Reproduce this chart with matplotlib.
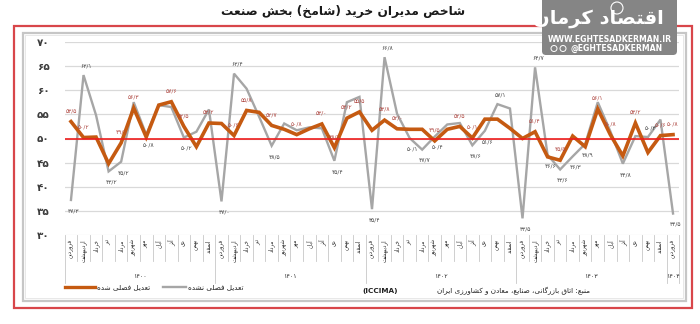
import numpy as np
import matplotlib
matplotlib.use("Agg")
import matplotlib.pyplot as plt
from matplotlib.patches import Rectangle, FancyBboxPatch, Circle

plt.rcParams['font.family'] = ['DejaVu Sans']

# --- data -------------------------------------------------------------
months = ['فروردین', 'اردیبهشت', 'خرداد', 'تیر', 'مرداد', 'شهریور',
          'مهر', 'آبان', 'آذر', 'دی', 'بهمن', 'اسفند']
years = ['۱۴۰۰', '۱۴۰۱', '۱۴۰۲', '۱۴۰۳', '۱۴۰۴']
year_lengths = [12, 12, 12, 12, 1]

# seasonally adjusted PMI (orange)
adjusted = [53.5, 50.2, 50.3, 44.8, 49.1, 56.3, 50.3, 56.9, 57.6, 52.5,
            48.3, 53.2, 53.1, 50.6, 55.8, 55.4, 52.7, 51.9, 50.8, 52.0,
            53.0, 48.1, 54.2, 55.5, 51.7, 53.8, 52.0, 51.9, 51.9, 49.5,
            51.9, 52.5, 50.1, 54.0, 54.0, 52.1, 50.0, 51.4, 46.2, 45.5,
            50.5, 48.3, 56.1, 50.8, 46.4, 53.2, 47.1, 50.6, 50.8]
# not seasonally adjusted PMI (gray)
unadjusted = [37.3, 63.1, 54.8, 43.2, 45.2, 57.5, 50.8, 56.9, 56.5, 50.2,
              51.4, 56.0, 37.0, 63.4, 60.3, 54.5, 48.5, 53.1, 51.7, 52.3,
              52.1, 45.4, 57.5, 58.6, 35.4, 66.8, 55.1, 50.1, 47.7, 50.4,
              52.9, 53.2, 48.6, 51.6, 57.1, 56.2, 33.5, 64.7, 46.6, 43.6,
              46.3, 48.9, 57.5, 51.5, 44.8, 50.5, 50.3, 53.9, 34.5]

adjusted_labeled = [0, 1, 4, 5, 8, 9, 11, 13, 14, 16, 18, 20, 21, 22, 23,
                    25, 26, 29, 31, 32, 37, 39, 42, 43, 45, 47, 48]
unadjusted_labeled = [0, 1, 3, 4, 6, 9, 12, 13, 16, 21, 24, 25, 27, 28, 29,
                      32, 33, 34, 36, 37, 38, 39, 40, 41, 44, 46, 48]

title = 'شاخص مدیران خرید (شامخ) بخش صنعت'
legend_adj = 'تعدیل فصلی شده'
legend_unadj = 'تعدیل فصلی نشده'
source = 'منبع: اتاق بازرگانی، صنایع، معادن و کشاورزی ایران'
brand = 'اقتصاد کرمان'

ORANGE = '#c55a11'
GRAY = '#a6a6a6'

# --- minimal Persian shaping (presentation forms + visual order) ------
FORMS = {
    'ا': (0xFE8D, 0xFE8E), 'آ': (0xFE81, 0xFE82), 'د': (0xFEA9, 0xFEAA),
    'ذ': (0xFEAB, 0xFEAC), 'ر': (0xFEAD, 0xFEAE), 'ز': (0xFEAF, 0xFEB0),
    'ژ': (0xFB8A, 0xFB8B), 'و': (0xFEED, 0xFEEE),
    'ب': (0xFE8F, 0xFE90, 0xFE91, 0xFE92), 'ت': (0xFE95, 0xFE96, 0xFE97, 0xFE98),
    'ج': (0xFE9D, 0xFE9E, 0xFE9F, 0xFEA0), 'ح': (0xFEA1, 0xFEA2, 0xFEA3, 0xFEA4),
    'خ': (0xFEA5, 0xFEA6, 0xFEA7, 0xFEA8), 'س': (0xFEB1, 0xFEB2, 0xFEB3, 0xFEB4),
    'ش': (0xFEB5, 0xFEB6, 0xFEB7, 0xFEB8), 'ص': (0xFEB9, 0xFEBA, 0xFEBB, 0xFEBC),
    'ع': (0xFEC9, 0xFECA, 0xFECB, 0xFECC), 'ف': (0xFED1, 0xFED2, 0xFED3, 0xFED4),
    'ق': (0xFED5, 0xFED6, 0xFED7, 0xFED8), 'ک': (0xFB8E, 0xFB8F, 0xFB90, 0xFB91),
    'گ': (0xFB92, 0xFB93, 0xFB94, 0xFB95), 'ل': (0xFEDD, 0xFEDE, 0xFEDF, 0xFEE0),
    'م': (0xFEE1, 0xFEE2, 0xFEE3, 0xFEE4), 'ن': (0xFEE5, 0xFEE6, 0xFEE7, 0xFEE8),
    'ه': (0xFEE9, 0xFEEA, 0xFEEB, 0xFEEC), 'ی': (0xFBFC, 0xFBFD, 0xFBFE, 0xFBFF),
}
PERSIAN_DIGITS = str.maketrans('0123456789', '۰۱۲۳۴۵۶۷۸۹')


def fa(s):
    out = []
    for k, ch in enumerate(s):
        f = FORMS.get(ch)
        if f is None:
            out.append(ch)
            continue
        prev = s[k - 1] if k > 0 else ''
        nxt = s[k + 1] if k + 1 < len(s) else ''
        jp = prev in FORMS and len(FORMS[prev]) == 4
        jn = len(f) == 4 and nxt in FORMS
        if jp and jn:
            cp = f[3]
        elif jp:
            cp = f[1]
        elif jn:
            cp = f[2]
        else:
            cp = f[0]
        out.append(chr(cp))
    vis = ''.join(reversed(out))
    return vis.translate(str.maketrans('()', ')('))


def fa_num(v):
    return f'{v:.1f}'.replace('.', '/').translate(PERSIAN_DIGITS)


# --- figure -----------------------------------------------------------
W, H = 700, 324
fig = plt.figure(figsize=(7, 3.24), dpi=100)
fig.patch.set_facecolor('white')

# page-level frame drawn in pixel coordinates
bg = fig.add_axes([0, 0, 1, 1], zorder=0)
bg.set_xlim(0, W)
bg.set_ylim(H, 0)
bg.axis('off')
bg.add_patch(Rectangle((14, 26), 678, 282, fill=False, ec='#d8464a', lw=1.6))
bg.add_patch(Rectangle((22.5, 32.5), 663, 268, fill=False, ec='#c6c6c6', lw=1.6))
bg.add_patch(Rectangle((25, 35), 658, 263, fill=False, ec='#e4e4e4', lw=0.6))
bg.text(343, 12, fa(title), ha='center', va='center', fontsize=8.8,
        fontweight='bold', color='#1a1a1a')

x0, x1, ytop, ybot = 64.7, 679.3, 41.7, 235.3
ax = fig.add_axes([x0 / W, 1 - ybot / H, (x1 - x0) / W, (ybot - ytop) / H], zorder=1)
ax.patch.set_alpha(0)

n = len(adjusted)
x = np.arange(n)
ax.set_xlim(-0.5, n - 0.5)
ax.set_ylim(30, 70)
ax.set_yticks(np.arange(30, 71, 5))
ax.set_yticklabels([str(v).translate(PERSIAN_DIGITS) for v in range(30, 71, 5)],
                   fontweight='bold', fontsize=7.5, color='#3c3c3c')
ax.tick_params(axis='y', length=0, pad=11)
ax.tick_params(axis='x', length=0, labelbottom=False)
for sp in ax.spines.values():
    sp.set_visible(False)
for v in range(35, 71, 5):
    ax.axhline(v, color='#d9d9d9', lw=0.9, zorder=0)
ax.axhline(30, color='#d0d0d0', lw=0.8, zorder=0)

ax.plot(x, unadjusted, color=GRAY, lw=1.7, zorder=2, solid_joinstyle='miter')
ax.plot(x, adjusted, color=ORANGE, lw=2.6, zorder=3, solid_joinstyle='miter')
ax.axhline(50, color='#ee1c1c', lw=1.2, zorder=4)

# value labels
for i in adjusted_labeled:
    ax.annotate(fa_num(adjusted[i]), (i, adjusted[i]), xytext=(0, 6),
                textcoords='offset points', ha='center', va='bottom',
                fontsize=4.3, color='#b04a44', zorder=5)
for i in unadjusted_labeled:
    up = unadjusted[i] > adjusted[i] + 3
    ax.annotate(fa_num(unadjusted[i]), (i, unadjusted[i]),
                xytext=(2, 5 if up else -6), textcoords='offset points',
                ha='center', va='bottom' if up else 'top',
                fontsize=4.3, color='#4a4a4a', zorder=5)

# multi-level category axis
xt = ax.get_xaxis_transform()
for i in range(n):
    ax.text(i, -0.02, fa(months[i % 12]), transform=xt, rotation=90,
            ha='center', va='top', fontsize=4.0, color='#2a2a2a')
starts = np.cumsum([0] + year_lengths)
for b in range(n + 1):
    long_tick = b in starts
    ax.plot([b - 0.5, b - 0.5], [0, -0.245 if long_tick else -0.135],
            transform=xt, color='#c8c8c8', lw=0.6, clip_on=False)
for k, yr in enumerate(years):
    mid = (starts[k] + starts[k + 1] - 1) / 2
    ax.text(mid, -0.215, yr, transform=xt, ha='center', va='center',
            fontsize=4.6, color='#333333')

# legend and source line
bg.plot([65, 95], [287, 287], color=ORANGE, lw=2.4)
bg.text(97, 287, fa(legend_adj), ha='left', va='center', fontsize=5.2, color='#222222')
bg.plot([163, 186], [287, 287], color=GRAY, lw=1.7)
bg.text(188, 287, fa(legend_unadj), ha='left', va='center', fontsize=5.2, color='#222222')
bg.text(590, 291, fa(source), ha='right', va='center', fontsize=5.2, color='#222222')
bg.text(398, 291, '(ICCIMA)', ha='right', va='center', fontsize=5.2,
        fontweight='bold', color='#222222')

# brand badge on top
top = fig.add_axes([0, 0, 1, 1], zorder=3)
top.set_xlim(0, W)
top.set_ylim(H, 0)
top.axis('off')
top.add_patch(FancyBboxPatch((542, -4), 135, 59, boxstyle='round,pad=0,rounding_size=4',
                             fc='#858585', ec='none'))
top.text(598, 19, fa(brand), ha='center', va='center', fontsize=14,
         fontweight='bold', color='white')
top.add_patch(Circle((617, 8), 6, fc='none', ec='white', lw=0.8))
top.text(609.5, 39, 'WWW.EGHTESADKERMAN.IR', ha='center', va='center',
         fontsize=5.6, fontweight='bold', color='white')
top.add_patch(Circle((554, 48.5), 3, fc='none', ec='white', lw=0.7))
top.add_patch(Circle((563, 48.5), 3, fc='none', ec='white', lw=0.7))
top.text(617, 48.5, '@EGHTESADKERMAN', ha='center', va='center',
         fontsize=5.6, fontweight='bold', color='white')

fig.savefig('out.png', dpi=100, facecolor='white')
